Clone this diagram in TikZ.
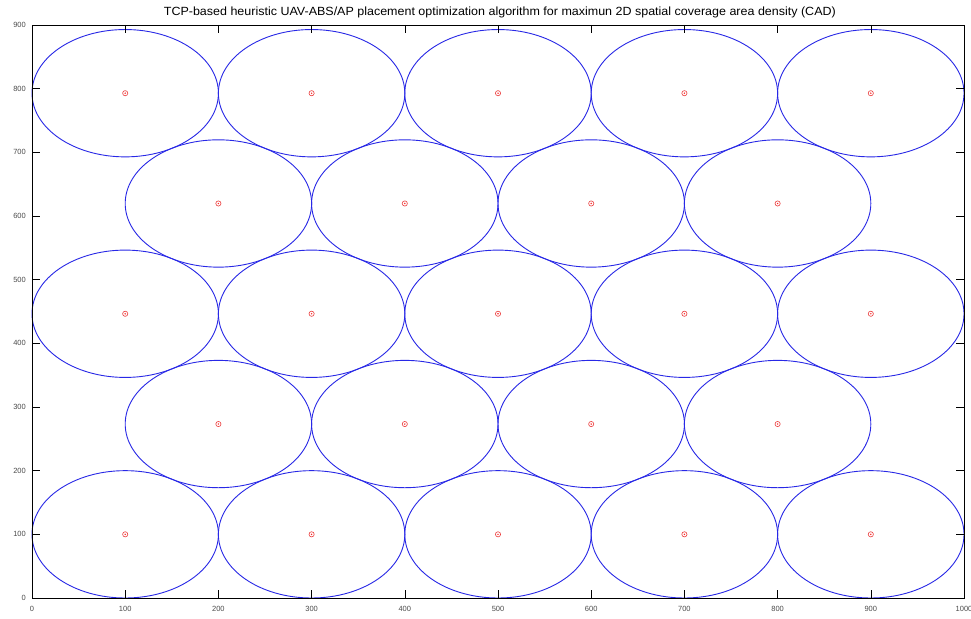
\documentclass[tikz,border=0pt]{standalone}
\usepackage{fontspec}
\setmainfont{Liberation Sans}
\tikzset{
  cov/.style={draw={rgb,255:red,40;green,40;blue,230}, line width=0.9pt},
  ctr/.style={draw={rgb,255:red,235;green,60;blue,60}, line width=0.6pt},
  ticklab/.style={font=\fontsize{7.5}{9}\selectfont, text=black!70, inner sep=0pt},
  axisline/.style={draw=black, line width=0.8pt},
}
\begin{document}
\begin{tikzpicture}[x=1pt,y=1pt]
\useasboundingbox (0,0) rectangle (971,618);
\fill[white] (0,0) rectangle (971,618);
\begin{scope}[shift={(32,20)}, x=0.932pt, y=0.6367pt]
  % coverage circles and centres
  \foreach \row/\yy in {0/100, 2/446.41, 4/792.82}{
    \foreach \xx in {100,300,500,700,900}{
      \draw[cov] (\xx,\yy) ellipse [x radius=93.2pt, y radius=63.67pt];
      \draw[ctr] (\xx,\yy) circle [radius=2.6pt];
      \fill[red!85] (\xx,\yy) circle [radius=0.8pt];
    }
  }
  \foreach \row/\yy in {1/273.21, 3/619.62}{
    \foreach \xx in {200,400,600,800}{
      \draw[cov] (\xx,\yy) ellipse [x radius=93.2pt, y radius=63.67pt];
      \draw[ctr] (\xx,\yy) circle [radius=2.6pt];
      \fill[red!85] (\xx,\yy) circle [radius=0.8pt];
    }
  }
  % axes box
  \draw[axisline] (0,0) rectangle (1000,900);
  % ticks
  \foreach \xx in {100,200,...,900}{
    \draw[black, line width=0.6pt] (\xx,0) -- ++(0,8pt);
    \draw[black, line width=0.6pt] (\xx,900) -- ++(0,-8pt);
  }
  \foreach \yy in {100,200,...,800}{
    \draw[black, line width=0.6pt] (0,\yy) -- ++(8pt,0);
    \draw[black, line width=0.6pt] (1000,\yy) -- ++(-8pt,0);
  }
  % tick labels
  \foreach \xx in {0,100,...,1000}{
    \node[ticklab, anchor=north] (xl\xx) at (\xx,-8pt) {\xx};
  }
  \foreach \yy in {0,100,...,900}{
    \node[ticklab, anchor=east] (yl\yy) at (-6pt,\yy) {\yy};
  }
  \node[inner sep=0pt, anchor=base] (title) at (502,915) {\resizebox{672pt}{8.6pt}{TCP-based heuristic UAV-ABS/AP placement optimization algorithm for maximun 2D spatial coverage area density (CAD)}};
\end{scope}
\end{tikzpicture}
\end{document}
